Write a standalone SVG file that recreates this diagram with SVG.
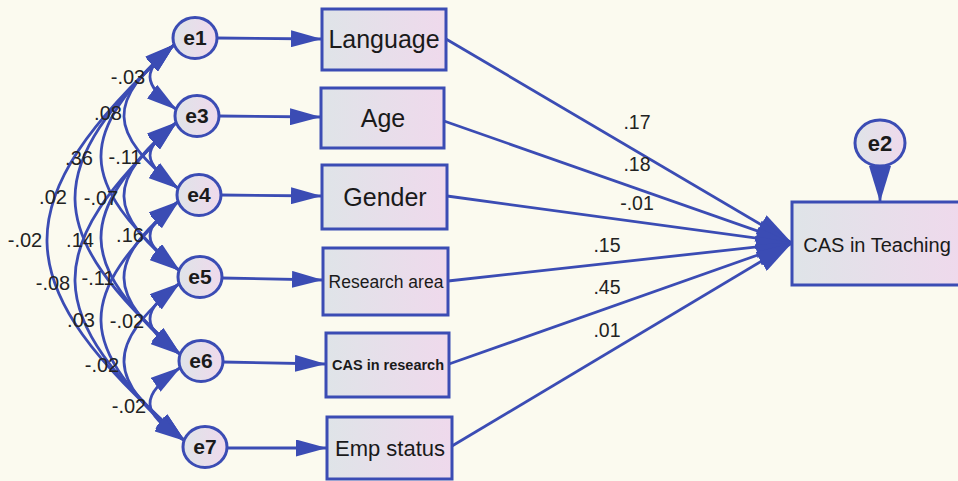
<svg xmlns="http://www.w3.org/2000/svg" width="958" height="481" viewBox="0 0 958 481">
<defs>
<linearGradient id="gf" x1="0" y1="0" x2="1" y2="0">
<stop offset="0" stop-color="#dfe4e8"/>
<stop offset="1" stop-color="#efd9ec"/>
</linearGradient>
<marker id="ah" markerUnits="userSpaceOnUse" markerWidth="32" markerHeight="17" refX="31" refY="8.5" orient="auto-start-reverse" viewBox="0 0 32 17">
<path d="M0,0 L31,8.5 L0,17 z" fill="#3b4cb4"/>
</marker>
<marker id="big" markerUnits="userSpaceOnUse" markerWidth="37" markerHeight="22" refX="36" refY="11" orient="auto" viewBox="0 0 37 22">
<path d="M0,0 L36,11 L0,22 z" fill="#3b4cb4"/>
</marker>
<style>
.cv{fill:none;stroke:#3b4cb4;stroke-width:2.8;marker-start:url(#ah);marker-end:url(#ah)}
.ar{fill:none;stroke:#3b4cb4;stroke-width:2.8;marker-end:url(#ah)}
.ab{fill:none;stroke:#3b4cb4;stroke-width:2.8;marker-end:url(#big)}
.nd{fill:url(#gf);stroke:#3b4cb4;stroke-width:3}
.bx{fill:url(#gf);stroke:#3b4cb4;stroke-width:3}
.nt{font-family:"Liberation Sans",Arial,sans-serif;font-weight:bold;font-size:21px;fill:#1a1a1a;text-anchor:middle}
.bt{font-family:"Liberation Sans",Arial,sans-serif;fill:#1a1a1a;text-anchor:middle}
.cl{font-family:"Liberation Sans",Arial,sans-serif;font-size:20px;fill:#222;text-anchor:middle}
.pl{font-family:"Liberation Sans",Arial,sans-serif;font-size:19.5px;fill:#222;text-anchor:middle}
</style>
</defs>
<rect x="0" y="0" width="958" height="481" fill="#fbfaef"/>

<g id="connectors">
<path class="cv" d="M175,44 C141.3,70.4 141.3,83.6 177,110"/>
<path class="cv" d="M175,44 C106.3,102 106.3,131 179,189"/>
<path class="cv" d="M175,44 C75.5,134.8 75.5,180.2 180,271"/>
<path class="cv" d="M175,44 C40.7,168.4 40.7,230.6 181,355"/>
<path class="cv" d="M175,44 C2.7,202.8 2.7,282.2 185,441"/>
<path class="cv" d="M177,122 C140.7,148.8 140.7,162.2 179,189"/>
<path class="cv" d="M177,122 C105.8,181.6 105.8,211.4 180,271"/>
<path class="cv" d="M177,122 C75,215.2 75,261.8 181,355"/>
<path class="cv" d="M177,122 C39.7,249.6 39.7,313.4 185,441"/>
<path class="cv" d="M179,201 C140.2,229 140.2,243 180,271"/>
<path class="cv" d="M179,201 C105.3,262.6 105.3,293.4 181,355"/>
<path class="cv" d="M179,201 C74,297 74,345 185,441"/>
<path class="cv" d="M180,283 C139.8,311.8 139.8,326.2 181,355"/>
<path class="cv" d="M180,283 C104.5,346.2 104.5,377.8 185,441"/>
<path class="cv" d="M181,367 C139,396.6 139,411.4 185,441"/>

<line class="ar" x1="216" y1="38" x2="322" y2="39"/>
<line class="ar" x1="218" y1="116" x2="321" y2="117"/>
<line class="ar" x1="220" y1="195" x2="322" y2="196"/>
<line class="ar" x1="221" y1="278" x2="323" y2="280"/>
<line class="ar" x1="222" y1="362" x2="326" y2="364"/>
<line class="ar" x1="226" y1="448" x2="327" y2="448"/>

<line class="ab" x1="446" y1="39" x2="792" y2="243"/>
<line class="ab" x1="444" y1="121" x2="792" y2="243"/>
<line class="ab" x1="447" y1="196" x2="792" y2="243"/>
<line class="ab" x1="448" y1="281" x2="792" y2="243"/>
<line class="ab" x1="449" y1="364" x2="792" y2="243"/>
<line class="ab" x1="452" y1="446" x2="792" y2="243"/>
<line class="ab" x1="880" y1="166" x2="880" y2="202"/>

<text class="cl" x="128" y="84">-.03</text>
<text class="cl" x="108" y="120">.08</text>
<text class="cl" x="79" y="165">.36</text>
<text class="cl" x="125" y="164">-.11</text>
<text class="cl" x="53" y="204">.02</text>
<text class="cl" x="101" y="205">-.07</text>
<text class="cl" x="25" y="247">-.02</text>
<text class="cl" x="80" y="247">.14</text>
<text class="cl" x="130" y="242">.16</text>
<text class="cl" x="53" y="290">-.08</text>
<text class="cl" x="98" y="285">-.11</text>
<text class="cl" x="81" y="327">.03</text>
<text class="cl" x="127" y="328">-.02</text>
<text class="cl" x="102" y="372">-.02</text>
<text class="cl" x="129" y="413">-.02</text>

<text class="pl" x="637" y="129">.17</text>
<text class="pl" x="637" y="171">.18</text>
<text class="pl" x="637" y="210">-.01</text>
<text class="pl" x="607" y="252">.15</text>
<text class="pl" x="607" y="294">.45</text>
<text class="pl" x="607" y="337">.01</text>
</g>

<g id="e1"><ellipse class="nd" cx="195" cy="38" rx="22" ry="20.5"/><text class="nt" x="195" y="45">e1</text></g>
<g id="e3"><ellipse class="nd" cx="197" cy="116" rx="22" ry="20.5"/><text class="nt" x="197" y="123">e3</text></g>
<g id="e4"><ellipse class="nd" cx="199" cy="195" rx="22" ry="20.5"/><text class="nt" x="199" y="202">e4</text></g>
<g id="e5"><ellipse class="nd" cx="200" cy="277" rx="22" ry="20.5"/><text class="nt" x="200" y="284">e5</text></g>
<g id="e6"><ellipse class="nd" cx="201" cy="361" rx="22" ry="20.5"/><text class="nt" x="201" y="368">e6</text></g>
<g id="e7"><ellipse class="nd" cx="205" cy="447" rx="22" ry="20.5"/><text class="nt" x="205" y="454">e7</text></g>
<g id="e2"><ellipse class="nd" cx="880" cy="143" rx="25" ry="23"/><text class="nt" x="880" y="151" style="font-size:22px">e2</text></g>

<g id="language"><rect class="bx" x="322" y="9" width="124" height="61"/><text class="bt" x="384" y="48" style="font-size:25px">Language</text></g>
<g id="age"><rect class="bx" x="321" y="88" width="123" height="60"/><text class="bt" x="383" y="127" style="font-size:25px">Age</text></g>
<g id="gender"><rect class="bx" x="322" y="165" width="125" height="64"/><text class="bt" x="385" y="206" style="font-size:25px">Gender</text></g>
<g id="research-area"><rect class="bx" x="323" y="248" width="125" height="67"/><text class="bt" x="386" y="288" style="font-size:17.5px">Research area</text></g>
<g id="cas-in-research"><rect class="bx" x="326" y="333" width="123" height="64"/><text class="bt" x="388" y="370" style="font-size:14.5px;font-weight:bold">CAS in research</text></g>
<g id="emp-status"><rect class="bx" x="327" y="417" width="125" height="62"/><text class="bt" x="390" y="456" style="font-size:22px">Emp status</text></g>
<g id="cas-in-teaching"><rect class="bx" x="792" y="202" width="172" height="83"/><text class="bt" x="877" y="252" style="font-size:20px">CAS in Teaching</text></g>
</svg>
